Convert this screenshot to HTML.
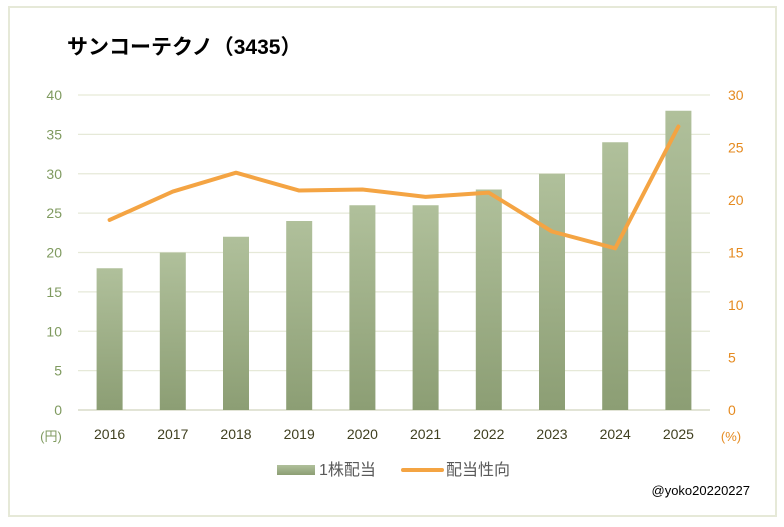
<!DOCTYPE html>
<html><head><meta charset="utf-8"><style>
body{margin:0;background:#fff;}
svg{display:block;font-family:"Liberation Sans","Noto Sans CJK JP",sans-serif;}
</style></head><body>
<svg id="chart" width="784" height="527" viewBox="0 0 784 527">
<defs><linearGradient id="bg" x1="0" y1="0" x2="0" y2="1"><stop offset="0" stop-color="#b0c09b"/><stop offset="1" stop-color="#8c9e74"/></linearGradient></defs>
<rect x="9" y="7" width="767" height="509" fill="#fff" stroke="#e6e9d8" stroke-width="2"/>
<text x="67" y="54" font-size="21" font-weight="bold" fill="#000">サンコーテクノ（3435）</text>
<g id="grid"></g><g id="bars"></g><g id="line"></g><g id="labels"></g>
<text x="51" y="441" font-size="13" fill="#7f9a5f" text-anchor="middle">(円)</text>
<text x="731" y="441" font-size="13" fill="#e58a1f" text-anchor="middle">(%)</text>
<rect x="277" y="465" width="38" height="10" fill="url(#bg)"/>
<text x="319" y="475" font-size="16" fill="#595959">1株配当</text>
<line x1="403" y1="470" x2="442" y2="470" stroke="#f4a443" stroke-width="4" stroke-linecap="round"/>
<text x="446" y="475" font-size="16" fill="#595959">配当性向</text>
<text x="750" y="495" font-size="13" fill="#000" text-anchor="end">@yoko20220227</text>
</svg>
<script>
const years=["2016","2017","2018","2019","2020","2021","2022","2023","2024","2025"];
const dividend=[18,20,22,24,26,26,28,30,34,38];
const payout=[18.1,20.8,22.6,20.9,21.0,20.3,20.7,17.0,15.4,27.0];
const leftTicks=[0,5,10,15,20,25,30,35,40];
const rightTicks=[0,5,10,15,20,25,30];
const NS="http://www.w3.org/2000/svg";
const x0=78,x1=710,yb=410,yt=95;
const xs=i=>x0+(x1-x0)/years.length*(i+0.5);
const yl=v=>yb-(yb-yt)*v/40;
const yr=v=>yb-(yb-yt)*v/30;
function mk(p,t,a){const e=document.createElementNS(NS,t);for(const k in a)e.setAttribute(k,a[k]);document.getElementById(p).appendChild(e);return e;}
leftTicks.forEach(v=>{
 const g=mk('grid','line',{x1:x0,x2:x1,y1:yl(v),y2:yl(v),stroke:v===0?'#d9dcc8':'#e6e9d8','stroke-width':v===0?1.5:1.2});
 
 
 const t=mk('labels','text',{x:62,y:yl(v)+5,'font-size':14,fill:'#7f9a5f','text-anchor':'end'});t.textContent=v;
 
 
});
rightTicks.forEach(v=>{
 const t=mk('labels','text',{x:728,y:yr(v)+5,'font-size':14,fill:'#e58a1f'});t.textContent=v;
 
 
});
years.forEach((y,i)=>{
 const b=mk('bars','rect',{x:xs(i)-13,y:yl(dividend[i]),width:26,height:yb-yl(dividend[i]),fill:'url(#bg)'});
 
 
 const t=mk('labels','text',{x:xs(i),y:439,'font-size':14,fill:'#404020','text-anchor':'middle'});t.textContent=y;
 
 
});
const pl=mk('line','polyline',{points:payout.map((v,i)=>xs(i)+','+yr(v)).join(' '),fill:'none',stroke:'#f4a443','stroke-width':4,'stroke-linejoin':'round','stroke-linecap':'round'});


</script>
</body></html>
